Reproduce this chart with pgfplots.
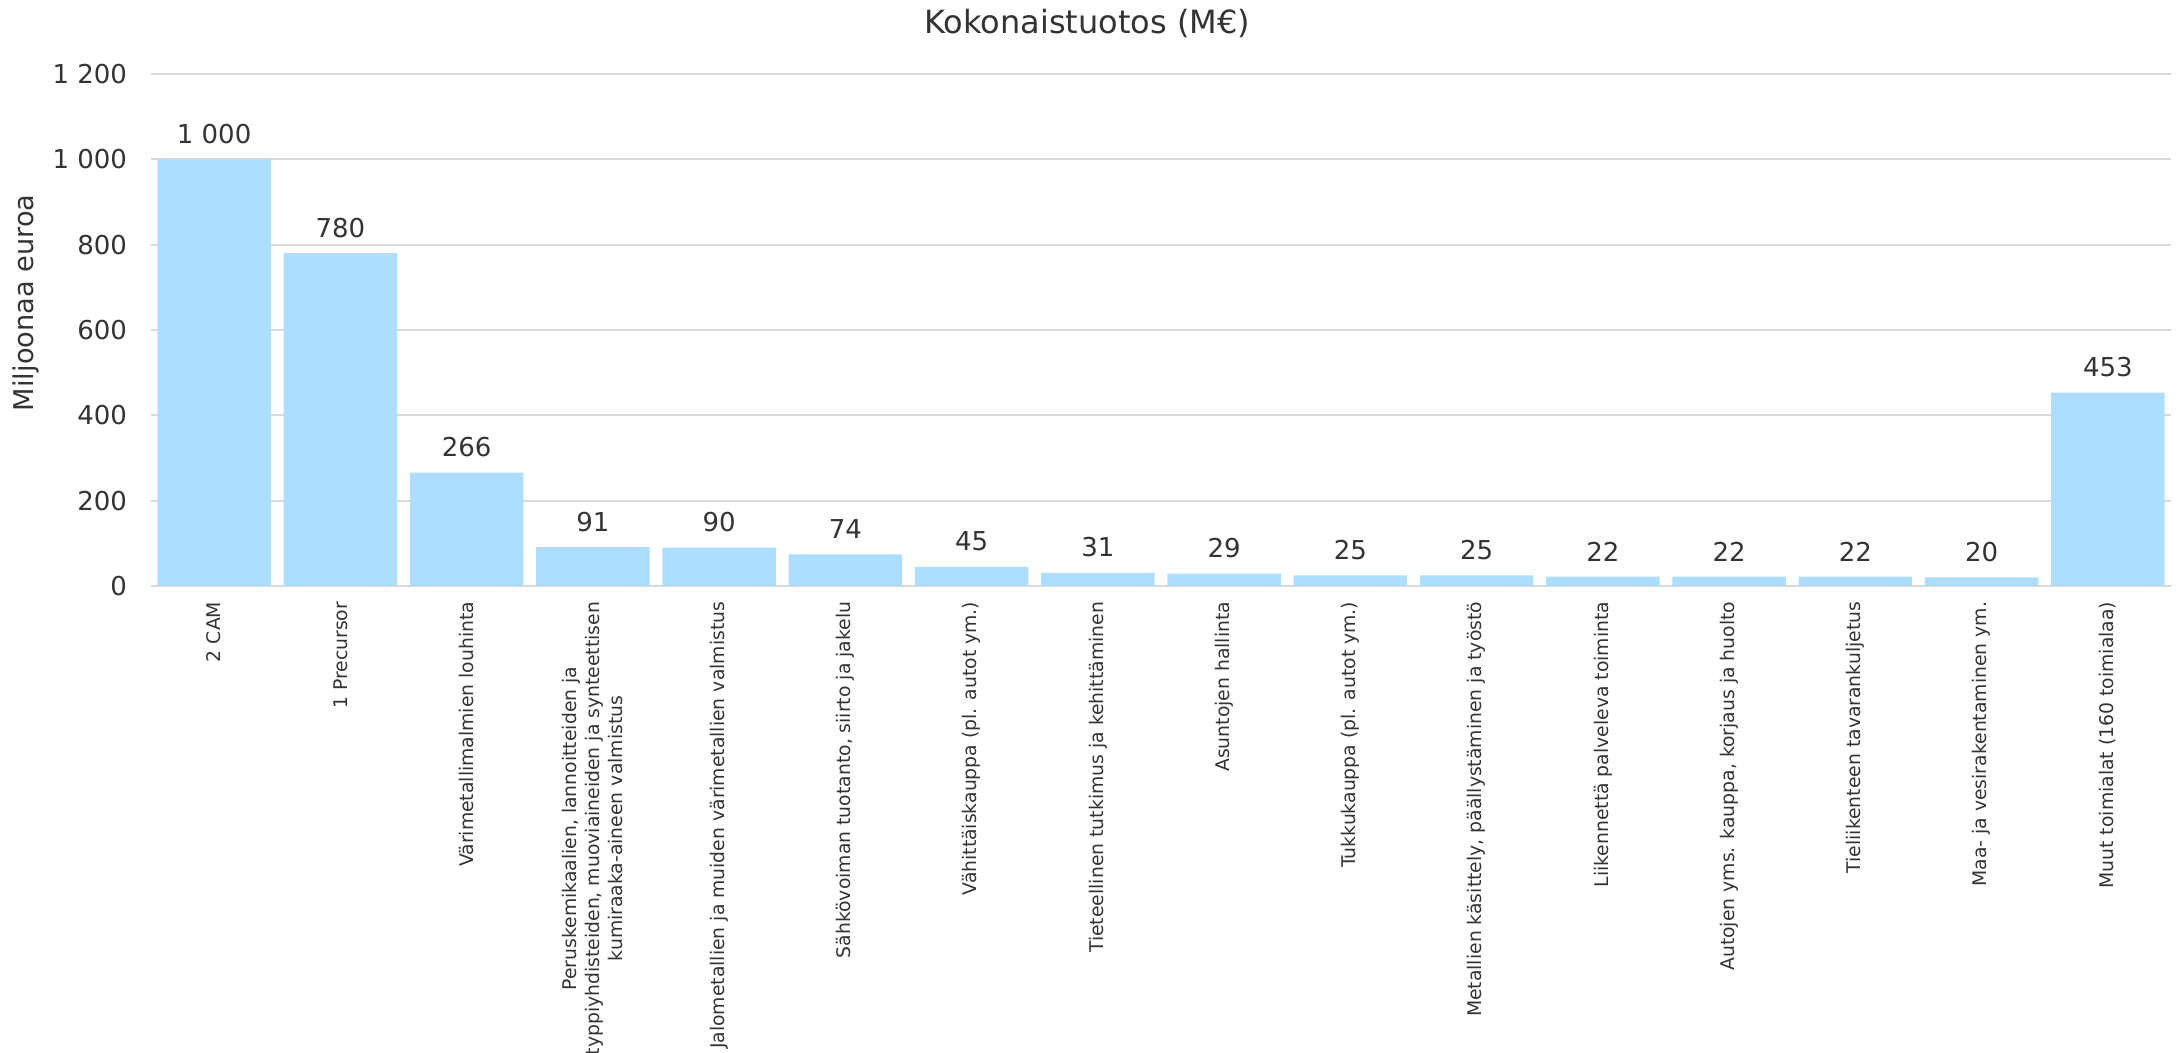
\documentclass[border=0pt]{standalone}
\usepackage{fontspec}
\setmainfont{DejaVu Sans}
\usepackage{pgfplots}
\pgfplotsset{compat=1.18}
\definecolor{barblue}{HTML}{ADDDFF}
\definecolor{gridgray}{HTML}{D9D9D9}
\definecolor{txt}{HTML}{333333}
\begin{document}
\begin{tikzpicture}
\useasboundingbox (0,0) rectangle (1088.5pt,526.5pt);
\begin{axis}[
  at={(75.5pt,233.5pt)}, anchor=south west,
  scale only axis,
  width=1010pt, height=256pt,
  xmin=-0.5, xmax=15.5,
  ymin=0, ymax=1200,
  ytick={0,200,400,600,800,1000,1200},
  xtick=data,
  xticklabels={2 CAM,1 Precursor,Värimetallimalmien louhinta,{Peruskemikaalien, lannoitteiden ja\\typpiyhdisteiden, muoviaineiden ja synteettisen\\kumiraaka-aineen valmistus},Jalometallien ja muiden värimetallien valmistus,{Sähkövoiman tuotanto, siirto ja jakelu},Vähittäiskauppa (pl. autot ym.),Tieteellinen tutkimus ja kehittäminen,Asuntojen hallinta,Tukkukauppa (pl. autot ym.),{Metallien käsittely, päällystäminen ja työstö},Liikennettä palveleva toiminta,{Autojen yms. kauppa, korjaus ja huolto},Tieliikenteen tavarankuljetus,Maa- ja vesirakentaminen ym.,Muut toimialat (160 toimialaa)},
  xticklabel style={rotate=90, anchor=east, align=center, font=\fontsize{9.4}{11.5}\selectfont, text=txt},
  xticklabel shift=4.4pt,
  yticklabel style={font=\fontsize{13}{16}\selectfont, text=txt},
  yticklabel shift=8.5pt,
  /pgf/number format/.cd, 1000 sep={\ }, assume math mode=true,
  /pgfplots/.cd,
  major tick length=0pt,
  axis line style={draw=none},
  ymajorgrids,
  grid style={gridgray, line width=1pt},
  title={Kokonaistuotos (M€)},
  title style={at={(0.4635,1)}, anchor=center, yshift=19.5pt, font=\fontsize{16}{19}\selectfont, text=txt},
  ylabel={Miljoonaa euroa},
  ylabel style={at={(axis description cs:-0.0619,0.553)}, anchor=center, font=\fontsize{13.6}{16}\selectfont, text=txt},
  nodes near coords,
  every node near coord/.append style={font=\fontsize{13}{16}\selectfont, text=txt, yshift=4.2pt},
]
\addplot[ybar, bar width=0.9, fill=barblue, draw=none] coordinates {
(0,1000) (1,780) (2,266) (3,91) (4,90) (5,74) (6,45) (7,31) (8,29) (9,25) (10,25) (11,22) (12,22) (13,22) (14,20) (15,453)
};
\end{axis}
\end{tikzpicture}
\end{document}
